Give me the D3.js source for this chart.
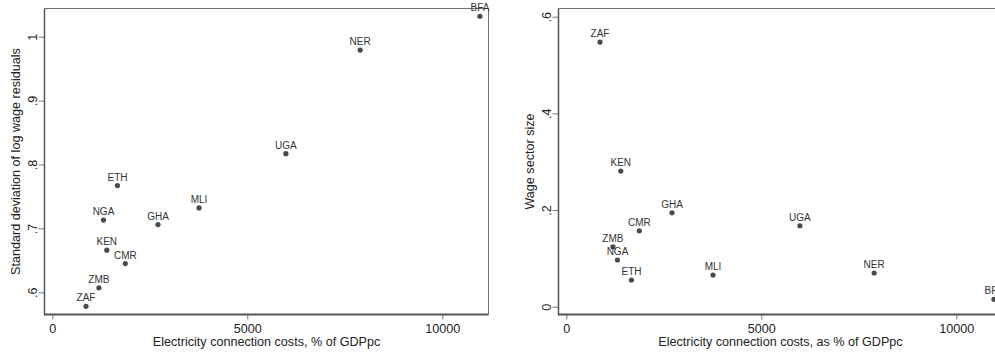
<!DOCTYPE html>
<html>
<head>
<meta charset="utf-8">
<script src="https://cdn.jsdelivr.net/npm/d3@7"></script>
<style>
  body { margin: 0; background: #fff; }
  svg { display: block; font-family: "Liberation Sans", Arial, sans-serif; }
</style>
</head>
<body>
<svg id="chart" width="995" height="356"></svg>
<script>
(function () {
    'use strict';

    // data
    var countries = ["ZAF", "ZMB", "NGA", "KEN", "ETH", "CMR", "GHA", "MLI", "UGA", "NER", "BFA"];
    var connCost = [864, 1195, 1312, 1398, 1671, 1872, 2710, 3762, 5990, 7894, 10965];
    var sdResid = [0.578, 0.607, 0.713, 0.666, 0.767, 0.645, 0.706, 0.732, 0.817, 0.979, 1.032];
    var wageSize = [0.5475, 0.124, 0.0966, 0.2807, 0.0552, 0.157, 0.1944, 0.0656, 0.1675, 0.0697, 0.0152];
    var xTicks = [0, 5000, 10000];
    var leftYTicks = [0.6, 0.7, 0.8, 0.9, 1];
    var rightYTicks = [0, 0.2, 0.4, 0.6];

    var svg = d3.select("#chart");
    var fmt = function (v) { return v === 0 ? "0" : (v === 1 ? "1" : String(v).replace(/^0/, "")); };

    function panel(ox, ys, yTickVals, yTitle, xTitle, lblOffsets) {
        var frame = { l: ox + 44.5, r: ox + 488.5, t: 8.5, b: 314.5 };
        var x = d3.scaleLinear().domain([0, 10000]).range([ox + 52.3, ox + 442.3]);
        var y = ys;
        var g = svg.append("g");

        // light frame top/right
        g.append("path")
            .attr("d", "M" + frame.l + "," + frame.t + "H" + frame.r + "V" + frame.b)
            .style("fill", "none").style("stroke", "#6e6e6e").style("stroke-width", "1px");

        // x axis
        var xa = g.append("g").attr("transform", "translate(0," + frame.b + ")")
            .call(d3.axisBottom(x).tickValues(xTicks).tickSize(5).tickSizeOuter(0).tickFormat(d3.format("d")));
        xa.select(".domain").remove();
        xa.selectAll(".tick line").style("stroke", "#777");
        xa.selectAll("text").attr("y", 10).attr("dy", "0.71em")
            .style("font-size", "12.6px").style("fill", "#222").style("font-family", "Liberation Sans, Arial, sans-serif");
        g.append("line").attr("x1", frame.l).attr("x2", frame.r).attr("y1", frame.b).attr("y2", frame.b)
            .style("stroke", "#555").style("stroke-width", "2px");

        // y axis
        var ya = g.append("g").attr("transform", "translate(" + frame.l + ",0)")
            .call(d3.axisLeft(y).tickValues(yTickVals).tickSize(6).tickSizeOuter(0).tickFormat(fmt));
        ya.select(".domain").remove();
        ya.selectAll(".tick line").style("stroke", "#777");
        ya.selectAll(".tick text")
            .attr("x", null).attr("dy", null)
            .attr("text-anchor", "middle")
            .attr("transform", "translate(-12,0) rotate(-90)")
            .attr("dominant-baseline", "central")
            .style("font-size", "12.6px").style("fill", "#222").style("font-family", "Liberation Sans, Arial, sans-serif");
        g.append("line").attr("x1", frame.l).attr("x2", frame.l).attr("y1", frame.t).attr("y2", frame.b + 1)
            .style("stroke", "#555").style("stroke-width", "1.5px");

        // titles
        g.append("text")
            .attr("x", (frame.l + frame.r) / 2).attr("y", 345.5)
            .attr("text-anchor", "middle")
            .style("font-size", "12.6px").style("fill", "#222")
            .text(xTitle);
        g.append("text")
            .attr("transform", "translate(" + (ox + 20) + "," + ((frame.t + frame.b) / 2) + ") rotate(-90)")
            .attr("text-anchor", "middle")
            .style("font-size", "12.6px").style("fill", "#222")
            .text(yTitle);

        return { x: x, y: y, g: g };
    }

    function drawPoints(p, vals) {
        var pts = p.g.selectAll(".pt").data(countries).enter().append("g").attr("class", "pt");
        pts.append("circle")
            .attr("cx", function (d, i) { return p.x(connCost[i]); })
            .attr("cy", function (d, i) { return p.y(vals[i]); })
            .attr("r", 2.6)
            .style("fill", "#4a4a4a");
        pts.append("text")
            .attr("x", function (d, i) { return p.x(connCost[i]); })
            .attr("y", function (d, i) { return p.y(vals[i]) - 5; })
            .attr("text-anchor", "middle")
            .style("font-size", "10px").style("fill", "#333")
            .text(function (d) { return d; });
    }

    var yLeft = d3.scaleLinear().domain([0.6, 1]).range([292.3, 36.7]);
    var yRight = d3.scaleLinear().domain([0, 0.6]).range([306.7, 16.7]);

    var left = panel(0, yLeft, leftYTicks, "Standard deviation of log wage residuals", "Electricity connection costs, % of GDPpc");
    drawPoints(left, sdResid);

    var right = panel(514, yRight, rightYTicks, "Wage sector size", "Electricity connection costs, as % of GDPpc");
    drawPoints(right, wageSize);
}());
</script>
</body>
</html>
